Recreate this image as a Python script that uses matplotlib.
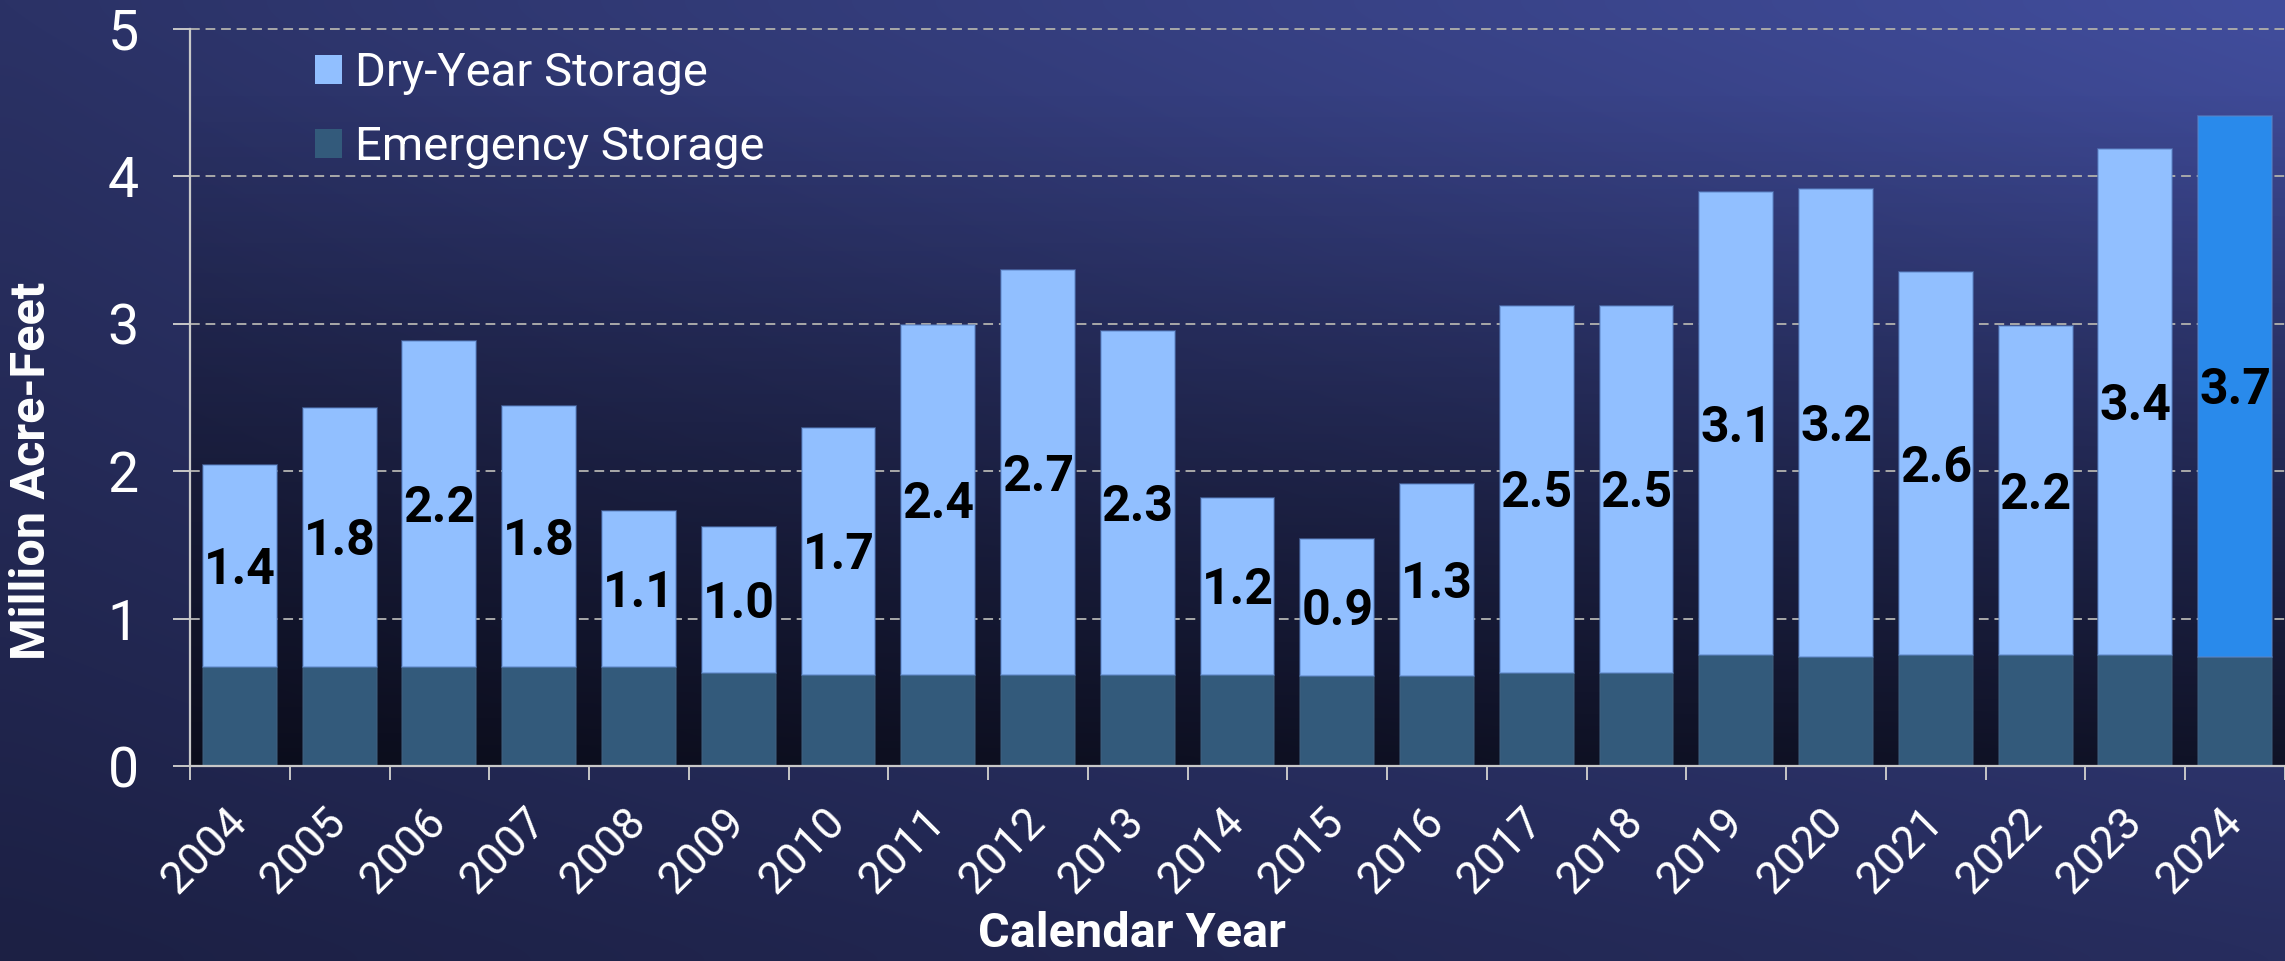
import numpy as np
import matplotlib
matplotlib.use('Agg')
import matplotlib.pyplot as plt
from matplotlib.patches import Patch

# ---------------- data ----------------
years = [str(y) for y in range(2004, 2025)]
emergency = [0.67, 0.67, 0.67, 0.67, 0.67, 0.63, 0.62, 0.62, 0.62, 0.62, 0.62,
             0.61, 0.61, 0.63, 0.63, 0.75, 0.74, 0.75, 0.75, 0.75, 0.74]
dry = [1.37, 1.76, 2.21, 1.77, 1.06, 0.99, 1.67, 2.37, 2.74, 2.33, 1.20,
       0.93, 1.30, 2.49, 2.49, 3.14, 3.17, 2.60, 2.23, 3.43, 3.67]
value_labels = [f"{v:.1f}" for v in dry]
legend_labels = ['Dry-Year Storage', 'Emergency Storage']
yticks = [0, 1, 2, 3, 4, 5]
ylabel = 'Million Acre-Feet'
xlabel = 'Calendar Year'

# ---------------- style ----------------
FONT = ['Roboto', 'DejaVu Sans']
W, H, DPI = 2285, 961, 100
DRY = '#91BFFF'
DRY_HL = '#298AEB'
EMER = '#335A7B'
AXC = '#c8c8c8'

fig = plt.figure(figsize=(W / DPI, H / DPI), dpi=DPI)

# figure background gradient
bg = fig.add_axes([0, 0, 1, 1], zorder=-10)
bg.axis('off')
nx, ny = 80, 40
xx, yy = np.meshgrid(np.linspace(0, 1, nx), np.linspace(0, 1, ny))
xx = xx[..., None]
yy = yy[..., None]
TL = np.array([0x2b, 0x32, 0x66]) / 255
TR = np.array([0x41, 0x4d, 0x9c]) / 255
BL = np.array([0x1c, 0x20, 0x44]) / 255
BR = np.array([0x27, 0x2d, 0x5e]) / 255
img = (BL * (1 - xx) * (1 - yy) + BR * xx * (1 - yy) + TL * (1 - xx) * yy + TR * xx * yy)
bg.imshow(np.clip(img, 0, 1), origin='lower', extent=[0, 1, 0, 1], aspect='auto',
          interpolation='bicubic')
bg.set_xlim(0, 1)
bg.set_ylim(0, 1)

# main axes
x0 = 190 / W
y_zero = 766
ppu = 147.5
ytop = 5.03
ax = fig.add_axes([x0, (H - y_zero) / H, 1 - x0, ytop * ppu / H])
ax.patch.set_alpha(0)

# darkening overlay toward bottom of plot area
gy = np.linspace(0, ytop, 200)
alpha = 0.64 * np.clip(1 - gy / 4.6, 0, 1) ** 1.1
ov = np.zeros((200, 2, 4))
ov[..., 3] = alpha[:, None]
ax.imshow(ov, origin='lower', extent=(-0.5, 20.5, 0, ytop), aspect='auto',
          interpolation='bilinear', zorder=0.2)

x = np.arange(len(years))
dry_colors = [DRY] * (len(years) - 1) + [DRY_HL]
ax.bar(x, emergency, width=0.74, color=EMER, edgecolor=(0.25, 0.38, 0.5, 0.6),
       linewidth=1.2, zorder=2)
ax.bar(x, dry, bottom=emergency, width=0.74, color=dry_colors,
       edgecolor=(0.36, 0.52, 0.78, 0.6), linewidth=1.2, zorder=2)

for xi, e, d, lab in zip(x, emergency, dry, value_labels):
    ax.annotate(lab, (xi, e + d / 2), xytext=(0, -13), textcoords='offset points',
                ha='center', va='baseline', fontsize=36, color='black',
                fontfamily=FONT, fontweight='bold', zorder=3)

ax.set_xlim(-0.5, 20.5)
ax.set_ylim(0, ytop)
ax.set_axisbelow(True)
ax.yaxis.grid(True, color='#a9a9a9', linewidth=1.4, linestyle=(0, (5, 3)), zorder=0.5)
ax.set_yticks(yticks)
ax.set_yticklabels([str(t) for t in yticks])
ax.set_xticks(x)
ax.set_xticklabels(years, rotation=45, ha='right', va='center', rotation_mode='anchor')
ax.set_xticks(np.arange(-0.5, len(years), 1), minor=True)
ax.tick_params(axis='x', which='major', length=0, pad=36, labelsize=32, colors='white')
ax.tick_params(axis='x', which='minor', length=10, width=1.4, color=AXC)
ax.tick_params(axis='y', length=12, width=1.4, color=AXC, pad=25, labelsize=40,
               labelcolor='white')
for lab in ax.get_xticklabels() + ax.get_yticklabels():
    lab.set_fontfamily(FONT)

for s in ['top', 'right']:
    ax.spines[s].set_visible(False)
for s in ['left', 'bottom']:
    ax.spines[s].set_color(AXC)
    ax.spines[s].set_linewidth(1.6)
ax.spines['left'].set_bounds(0, 5)

fig.text(32 / W, 1 - 471 / H, ylabel, rotation=90, ha='center', va='center',
         fontsize=35, fontweight='bold', color='white', fontfamily=FONT)
fig.text(1132 / W, 1 - 934 / H, xlabel, ha='center', va='center',
         fontsize=35, fontweight='bold', color='white', fontfamily=FONT)

handles = [Patch(facecolor=DRY), Patch(facecolor=EMER)]
fig.legend(handles, legend_labels, loc='upper left', bbox_to_anchor=(315 / W, 1 - 51 / H),
           frameon=False, prop=dict(family=FONT, size=34), labelcolor='white',
           handlelength=0.58, handleheight=0.58, handletextpad=0.26, labelspacing=0.64,
           borderpad=0, borderaxespad=0)

fig.savefig('out.png', dpi=DPI)
